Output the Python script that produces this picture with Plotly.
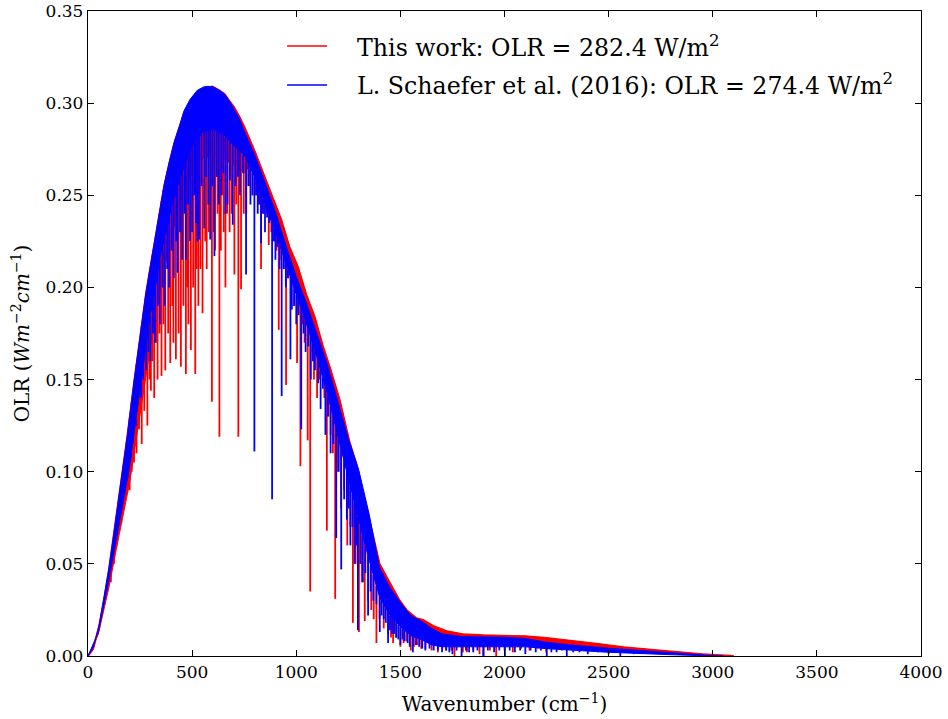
import numpy as np
import plotly.graph_objects as go

# ---------------- data ----------------
# "This work" (red): upper envelope of the spectrum
red_env_wn = [0, 25, 53, 80, 101, 120, 141, 165, 189, 221, 250, 278, 300, 326, 350, 366, 390,
              414, 440, 462, 490, 525, 560, 597, 630, 655, 680, 700, 725, 751, 800, 850, 887,
              927, 967, 1008, 1048, 1088, 1128, 1160, 1208, 1256, 1289, 1337, 1400, 1450,
              1497, 1529, 1577, 1609, 1657, 1722, 1800, 1900, 2000, 2100, 2200, 2331, 2450,
              2572, 2700, 2812, 2950, 3053, 3100]
red_env_olr = [0.0, 0.004, 0.0158, 0.032, 0.047, 0.062, 0.079, 0.099, 0.119, 0.148, 0.173,
               0.196, 0.211, 0.228, 0.245, 0.255, 0.267, 0.278, 0.287, 0.295, 0.301, 0.306,
               0.308, 0.309, 0.307, 0.305, 0.301, 0.298, 0.293, 0.287, 0.274, 0.259, 0.248,
               0.237, 0.222, 0.211, 0.196, 0.184, 0.168, 0.157, 0.139, 0.116, 0.104, 0.080,
               0.050, 0.0395, 0.030, 0.025, 0.0205, 0.0196, 0.0163, 0.0135, 0.0118, 0.0112,
               0.011, 0.0107, 0.0098, 0.0082, 0.0065, 0.0047, 0.0033, 0.0023, 0.001, 0.0003,
               0.0]
# lower edge of the solid red band
red_low_wn = [0, 50, 100, 150, 200, 250, 300, 350, 400, 450, 500, 550, 600, 650, 700, 750,
              800, 850, 900, 950, 1000, 1050, 1100, 1150, 1200, 1250, 1300, 1350, 1400, 1450,
              1500, 1550, 1600, 1650, 1700, 2000, 2200, 2500, 2800, 3000]
red_low_olr = [0.0, 0.012, 0.037, 0.066, 0.094, 0.13, 0.168, 0.2, 0.228, 0.248, 0.262, 0.27,
               0.272, 0.27, 0.266, 0.262, 0.27, 0.254, 0.238, 0.22, 0.204, 0.188, 0.17, 0.152,
               0.132, 0.11, 0.088, 0.062, 0.04, 0.028, 0.02, 0.014, 0.011, 0.009, 0.008,
               0.0085, 0.007, 0.004, 0.0015, 0.0]
# red absorption spikes: wavenumber and minimum value reached
red_spk_wn = [110, 125, 137, 149, 160, 173, 185, 200, 210, 221, 233, 245, 258, 270, 285, 295,
              302, 310, 318, 327, 334, 343, 353, 362, 371, 385, 395, 405, 410, 422, 435, 446,
              458, 470, 476, 482, 494, 505, 515, 522, 530, 540, 550, 563, 570, 580, 595, 603,
              610, 622, 631, 638, 645, 652, 660, 668, 680, 690, 703, 712, 722, 735, 748, 760,
              775, 790, 805, 818, 831, 845, 858, 868, 880, 895, 905, 916, 928, 940, 951, 963,
              975, 990, 1004, 1012, 1020, 1030, 1040, 1055, 1067, 1078, 1085, 1100, 1110, 1120,
              1135, 1147, 1155, 1165, 1176, 1187, 1200, 1215, 1230, 1245, 1260, 1272, 1285,
              1301, 1315, 1329, 1345, 1360, 1372, 1385, 1400, 1420, 1440, 1455, 1465, 1480,
              1500, 1515, 1530, 1550, 1565, 1580, 1600, 1620, 1650, 1680, 1700, 1720, 1745,
              1760, 1800, 1820, 1850, 1880, 1900, 1930, 1960, 2000, 2040, 2080, 2120, 2160,
              2200, 2250, 2300, 2350, 2400, 2450, 2520, 2560, 2600, 2650, 2700]
red_spk_min = [0.04, 0.05, 0.06, 0.07, 0.072, 0.081, 0.088, 0.09, 0.1, 0.105, 0.11, 0.123,
               0.115, 0.133, 0.125, 0.15, 0.144, 0.16, 0.14, 0.17, 0.15, 0.175, 0.152, 0.18,
               0.155, 0.175, 0.159, 0.19, 0.17, 0.161, 0.175, 0.157, 0.19, 0.153, 0.2, 0.18,
               0.166, 0.2, 0.153, 0.21, 0.19, 0.21, 0.186, 0.225, 0.21, 0.23, 0.138, 0.23, 0.22,
               0.24, 0.119, 0.22, 0.25, 0.23, 0.2, 0.24, 0.23, 0.24, 0.207, 0.245, 0.119, 0.199,
               0.24, 0.24, 0.255, 0.25, 0.25, 0.245, 0.21, 0.24, 0.24, 0.223, 0.23, 0.225, 0.22,
               0.177, 0.215, 0.21, 0.147, 0.205, 0.2, 0.19, 0.159, 0.185, 0.103, 0.18, 0.17,
               0.117, 0.035, 0.165, 0.15, 0.14, 0.15, 0.16, 0.14, 0.068, 0.13, 0.12, 0.11,
               0.031, 0.1, 0.08, 0.09, 0.06, 0.07, 0.018, 0.05, 0.013, 0.04, 0.019, 0.03,
               0.025, 0.02, 0.007, 0.02, 0.015, 0.012, 0.01, 0.007, 0.01, 0.005, 0.007, 0.008,
               0.003, 0.005, 0.006, 0.004, 0.004, 0.003, 0.002, 0.004, 0.003, 0.003, 0.0, 0.002,
               0.002, 0.003, 0.001, 0.0, 0.003, 0.0, 0.003, 0.002, 0.004, 0.003, 0.004, 0.002,
               0.004, 0.004, 0.005, 0.003, 0.004, 0.002, 0.003, 0.002, 0.002, 0.002]

# "L. Schaefer et al. (2016)" (blue): upper envelope
blue_env_wn = [0, 25, 53, 80, 101, 120, 141, 165, 189, 221, 250, 278, 300, 326, 350, 366, 390,
               414, 440, 462, 490, 525, 560, 597, 630, 655, 680, 700, 725, 750, 800, 850, 900,
               950, 1000, 1050, 1100, 1150, 1200, 1250, 1300, 1350, 1400, 1450, 1500, 1550,
               1600, 1650, 1700, 1800, 2000, 2100, 2200, 2300, 2500, 2700, 2850, 3000, 3050]
blue_env_olr = [0.0, 0.0045, 0.0165, 0.033, 0.048, 0.063, 0.08, 0.1, 0.12, 0.149, 0.174, 0.197,
                0.212, 0.229, 0.246, 0.256, 0.268, 0.279, 0.288, 0.296, 0.302, 0.307, 0.309,
                0.309, 0.307, 0.305, 0.301, 0.297, 0.292, 0.285, 0.272, 0.257, 0.241, 0.223,
                0.206, 0.191, 0.175, 0.158, 0.138, 0.118, 0.101, 0.077, 0.048, 0.037, 0.029,
                0.022, 0.019, 0.015, 0.012, 0.0105, 0.0102, 0.0095, 0.0075, 0.0062, 0.0042,
                0.0025, 0.0013, 0.0002, 0.0]
# lower edge of the solid blue band
blue_low_wn = [0, 50, 100, 150, 200, 250, 300, 350, 400, 450, 500, 550, 600, 650, 700, 750,
               800, 850, 900, 950, 1000, 1050, 1100, 1150, 1200, 1250, 1300, 1350, 1400, 1450,
               1500, 1550, 1600, 1650, 1700, 2100, 2200, 2500, 2800, 3000]
blue_low_olr = [0.0, 0.013, 0.041, 0.072, 0.103, 0.145, 0.185, 0.218, 0.243, 0.262, 0.276,
                0.284, 0.286, 0.283, 0.277, 0.272, 0.26, 0.245, 0.23, 0.213, 0.196, 0.18, 0.162,
                0.142, 0.12, 0.097, 0.074, 0.052, 0.032, 0.022, 0.016, 0.011, 0.009, 0.006,
                0.005, 0.005, 0.004, 0.002, 0.0007, 0.0]
# blue absorption spikes
blue_spk_wn = [160, 175, 190, 205, 215, 230, 240, 255, 265, 280, 290, 300, 312, 322, 335, 345,
               358, 368, 380, 390, 402, 412, 424, 430, 442, 452, 463, 470, 481, 490, 500, 510,
               518, 526, 534, 545, 558, 568, 578, 587, 597, 607, 618, 628, 640, 650, 660, 670,
               682, 695, 708, 720, 730, 745, 759, 770, 780, 790, 799, 808, 815, 823, 831, 840,
               850, 860, 870, 884, 893, 900, 910, 920, 930, 940, 950, 960, 972, 979, 990, 1000,
               1010, 1024, 1035, 1045, 1058, 1070, 1080, 1090, 1105, 1117, 1128, 1140, 1152,
               1165, 1178, 1192, 1204, 1216, 1230, 1243, 1252, 1260, 1270, 1280, 1288, 1296,
               1308, 1320, 1332, 1345, 1357, 1370, 1385, 1401, 1410, 1420, 1430, 1441, 1450,
               1460, 1470, 1480, 1490, 1500, 1510, 1520, 1535, 1545, 1560, 1575, 1590, 1605,
               1620, 1640, 1660, 1680, 1700, 1720, 1735, 1750, 1770, 1794, 1815, 1830, 1850,
               1870, 1898, 1920, 1950, 1975, 2002, 2025, 2050, 2075, 2100, 2125, 2150, 2175,
               2203, 2225, 2250, 2275, 2299, 2330, 2360, 2400, 2450, 2500, 2556, 2620]
blue_spk_min = [0.08, 0.095, 0.1, 0.115, 0.12, 0.125, 0.14, 0.14, 0.15, 0.155, 0.165, 0.16,
                0.175, 0.17, 0.19, 0.18, 0.2, 0.19, 0.21, 0.2, 0.22, 0.205, 0.225, 0.208, 0.23,
                0.215, 0.24, 0.215, 0.245, 0.225, 0.23, 0.25, 0.235, 0.225, 0.226, 0.255, 0.232,
                0.26, 0.245, 0.226, 0.255, 0.217, 0.26, 0.245, 0.25, 0.262, 0.24, 0.245, 0.258,
                0.234, 0.255, 0.26, 0.25, 0.262, 0.207, 0.255, 0.245, 0.25, 0.111, 0.25, 0.24,
                0.245, 0.224, 0.24, 0.23, 0.238, 0.235, 0.085, 0.225, 0.215, 0.222, 0.21, 0.141,
                0.21, 0.2, 0.205, 0.161, 0.188, 0.19, 0.18, 0.185, 0.123, 0.175, 0.165, 0.168,
                0.15, 0.16, 0.155, 0.148, 0.134, 0.145, 0.12, 0.13, 0.11, 0.115, 0.064, 0.1,
                0.047, 0.085, 0.074, 0.08, 0.06, 0.07, 0.05, 0.06, 0.014, 0.05, 0.04, 0.045,
                0.022, 0.035, 0.03, 0.028, 0.013, 0.022, 0.02, 0.018, 0.007, 0.014, 0.012,
                0.012, 0.01, 0.009, 0.006, 0.009, 0.008, 0.007, 0.005, 0.002, 0.006, 0.005,
                0.004, 0.003, 0.004, 0.003, 0.003, 0.002, 0.003, 0.002, 0.001, 0.003, 0.0,
                0.003, 0.002, 0.002, 0.003, 0.0, 0.003, 0.002, 0.003, 0.0, 0.003, 0.002, 0.003,
                0.001, 0.003, 0.002, 0.003, 0.0, 0.002, 0.002, 0.003, 0.0, 0.002, 0.002, 0.001,
                0.002, 0.001, 0.0, 0.001]

x_ticks = [0, 500, 1000, 1500, 2000, 2500, 3000, 3500, 4000]
y_ticks = [0.0, 0.05, 0.10, 0.15, 0.20, 0.25, 0.30, 0.35]

red_name = "This work: OLR = 282.4 W/m<sup>2</sup>"
blue_name = "L. Schaefer et al. (2016): OLR = 274.4 W/m<sup>2</sup>"

RED = "#ff0000"
BLUE = "#0000ff"
FONT = "DejaVu Serif"


def band(env_x, env_y, low_x, low_y):
    px = list(env_x) + list(low_x)[::-1]
    py = list(env_y) + list(low_y)[::-1]
    return px, py


def spikes(sx, smin, env_x, env_y):
    tops = np.interp(sx, env_x, env_y)
    xs, ys = [], []
    for x, t, m in zip(sx, tops, smin):
        xs += [x, x, None]
        ys += [float(t), m, None]
    return xs, ys


fig = go.Figure()

# red series
bx, by = band(red_env_wn, red_env_olr, red_low_wn, red_low_olr)
fig.add_trace(go.Scatter(x=bx, y=by, fill="toself", fillcolor=RED, mode="lines",
                         line=dict(color=RED, width=1), showlegend=False, hoverinfo="skip"))
sx, sy = spikes(red_spk_wn, red_spk_min, red_env_wn, red_env_olr)
fig.add_trace(go.Scatter(x=sx, y=sy, mode="lines", line=dict(color=RED, width=1.8),
                         showlegend=False, hoverinfo="skip"))
fig.add_trace(go.Scatter(x=red_env_wn, y=red_env_olr, mode="lines",
                         line=dict(color=RED, width=2), showlegend=False, hoverinfo="skip"))

# blue series
bx, by = band(blue_env_wn, blue_env_olr, blue_low_wn, blue_low_olr)
fig.add_trace(go.Scatter(x=bx, y=by, fill="toself", fillcolor=BLUE, mode="lines",
                         line=dict(color=BLUE, width=1), showlegend=False, hoverinfo="skip"))
sx, sy = spikes(blue_spk_wn, blue_spk_min, blue_low_wn, blue_low_olr)
fig.add_trace(go.Scatter(x=sx, y=sy, mode="lines", line=dict(color=BLUE, width=1.8),
                         showlegend=False, hoverinfo="skip"))

# legend (short line samples + text, placed like the reference)
leg_rows = [(0.9457, RED, red_name), (0.8853, BLUE, blue_name)]
for yy, col, txt in leg_rows:
    fig.add_shape(type="line", xref="paper", yref="paper", x0=0.239, x1=0.287, y0=yy, y1=yy,
                  line=dict(color=col, width=1.5))
    fig.add_annotation(xref="paper", yref="paper", x=0.3205, y=yy, xanchor="left",
                       yanchor="middle", text=txt, showarrow=False,
                       font=dict(family=FONT, size=23.7, color="black"))

axis_common = dict(showline=True, linecolor="black", linewidth=1.3, mirror="ticks",
                   ticks="inside", ticklen=6, tickwidth=1, tickcolor="black",
                   showgrid=False, zeroline=False, automargin=False,
                   ticklabeloverflow="allow",
                   tickfont=dict(family=FONT, size=17, color="black"))

fig.update_layout(
    width=948, height=719,
    margin=dict(l=88, r=27, t=11, b=63),
    paper_bgcolor="white", plot_bgcolor="white",
    font=dict(family=FONT, color="black"),
    showlegend=False,
    xaxis=dict(range=[0, 4000], tickvals=x_ticks, ticktext=[str(v) for v in x_ticks],
               title=dict(text="Wavenumber (cm<sup>−1</sup>)",
                          font=dict(family=FONT, size=20), standoff=16),
               **axis_common),
    yaxis=dict(range=[0, 0.35], tickvals=y_ticks, ticktext=[f"{v:.2f}" for v in y_ticks],
               title=dict(text="OLR (<i>Wm</i><sup>−2</sup><i>cm</i><sup>−1</sup>)",
                          font=dict(family=FONT, size=20), standoff=10),
               **axis_common),
)

# remove the default page margin so the figure fills the window exactly
fig.write_html("out.html", config={"displayModeBar": False},
               post_script="document.body.style.margin='0';document.body.style.overflow='hidden';")
